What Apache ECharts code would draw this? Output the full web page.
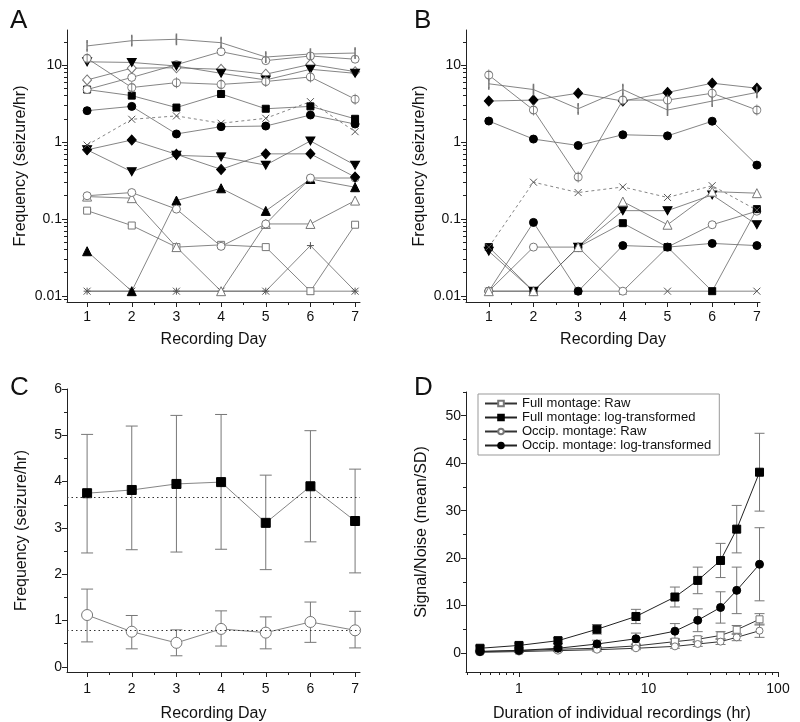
<!DOCTYPE html>
<html>
<head>
<meta charset="utf-8">
<script src="https://cdn.jsdelivr.net/npm/echarts@6/dist/echarts.min.js"></script>
<style>
  html, body { margin: 0; padding: 0; background: #fff; }
  #chart { width: 800px; height: 722px; }
</style>
</head>
<body>
<div id="chart"></div>
<script>
const FONT = "Liberation Sans, Arial, sans-serif";
const days = [1, 2, 3, 4, 5, 6, 7];
const Z = 0.0115; // recordings with no seizures sit just above 0.01

// ---- Panel A: individual patients (full montage), seizures/hr ----
const aBar      = [17.7, 20.7, 21.6, 19.5, 12.7, 13.9, 14.3];
const aCircHi   = [4.8, 6.9, 10.1, 14.9, 11.4, 13.1, 11.9];
const aPhi      = [12.2, 5.1, 5.9, 5.6, 6.1, 7.0, 3.6];
const aTriDnHi  = [11.0, 10.8, 9.7, 7.8, 6.4, 8.8, 7.8];
const aDiaOpen  = [6.4, 9.1, 9.2, 8.8, 7.6, 10.2, 8.2];
const aSqHi     = [4.8, 4.0, 2.8, 4.2, 2.7, 2.9, 2.0];
const aDotHi    = [2.55, 2.9, 1.27, 1.58, 1.61, 2.24, 1.71];
const aCrossDash= [0.91, 1.97, 2.18, 1.75, 2.03, 3.34, 1.36];
const aDiaFill  = [0.79, 1.06, 0.69, 0.44, 0.70, 0.70, 0.35];
const aTriDnLo  = [0.79, 0.41, 0.67, 0.64, 0.50, 1.03, 0.50];
const aCircLo   = [0.20, 0.22, 0.134, 0.044, 0.086, 0.34, 0.34];
const aTriOpen  = [0.195, 0.186, 0.043, Z, 0.086, 0.086, 0.173];
const aTriFill  = [0.038, Z, 0.173, 0.25, 0.127, 0.33, 0.258];
const aSqOpen   = [0.128, 0.082, 0.043, 0.046, 0.043, Z, 0.084];
const aPlus     = [Z, Z, Z, Z, Z, 0.045, Z];
const aCross    = [Z, Z, Z, Z, Z, Z, Z];

// ---- Panel B: individual patients (occipital montage) ----
const bPhi      = [7.4, 2.6, 0.35, 3.5, 3.5, 4.3, 2.6];
const bBar      = [5.7, 4.8, 2.7, 4.8, 2.6, 3.4, 4.4];
const bDiaFill  = [3.4, 3.5, 4.3, 3.4, 4.4, 5.8, 5.0];
const bDotHi    = [1.87, 1.09, 0.9, 1.24, 1.2, 1.86, 0.5];
const bCrossDash= [0.043, 0.30, 0.22, 0.26, 0.19, 0.27, 0.13];
const bTriOpen  = [Z, Z, 0.043, 0.168, 0.084, 0.226, 0.216];
const bTriDn    = [0.038, Z, 0.043, 0.128, 0.128, 0.205, 0.084];
const bSqFill   = [0.043, Z, 0.043, 0.088, 0.043, Z, 0.134];
const bCirc     = [Z, 0.043, 0.043, Z, 0.043, 0.084, 0.126];
const bDotLo    = [Z, 0.09, Z, 0.045, 0.043, 0.048, 0.045];
const bCross    = [Z, Z, Z, Z, Z, Z, Z];

// ---- Panel C: group mean +/- error per recording day ----
const cFull    = [3.75, 3.82, 3.95, 3.99, 3.11, 3.90, 3.15];
const cFullLo  = [2.46, 2.53, 2.48, 2.54, 2.10, 2.70, 2.03];
const cFullHi  = [5.02, 5.20, 5.43, 5.45, 4.14, 5.10, 4.27];
const cOcc     = [1.12, 0.76, 0.52, 0.82, 0.74, 0.97, 0.79];
const cOccLo   = [0.54, 0.39, 0.24, 0.45, 0.39, 0.53, 0.41];
const cOccHi   = [1.68, 1.11, 0.80, 1.21, 1.08, 1.40, 1.20];
const cFullMean = 3.66;
const cOccMean  = 0.79;

// ---- Panel D: signal/noise vs recording duration ----
const dHours      = [0.5, 1, 2, 4, 8, 16, 24, 36, 48, 72];
const dFullRaw    = [0.35, 0.5, 0.8, 1.0, 1.5, 2.4, 2.9, 3.7, 4.9, 7.1];
const dFullRawErr = [0.2, 0.2, 0.3, 0.3, 0.4, 0.4, 0.6, 0.8, 0.9, 1.2];
const dFullLog    = [1.0, 1.6, 2.6, 5.0, 7.7, 11.8, 15.3, 19.5, 26.1, 38.1];
const dFullLogErr = [0.5, 0.5, 0.6, 1.0, 1.5, 2.1, 2.8, 3.6, 5.0, 8.2];
const dOccRaw     = [0.15, 0.3, 0.5, 0.7, 1.0, 1.4, 1.9, 2.4, 3.3, 4.7];
const dOccRawErr  = [0.1, 0.2, 0.2, 0.3, 0.3, 0.4, 0.5, 0.6, 0.7, 1.4];
const dOccLog     = [0.3, 0.55, 1.0, 1.9, 3.0, 4.6, 6.9, 9.6, 13.2, 18.7];
const dOccLogErr  = [0.3, 0.3, 0.4, 0.8, 1.2, 1.6, 2.4, 3.3, 4.9, 7.7];
const dNames = ['Full montage: Raw', 'Full montage: log-transformed',
                'Occip. montage: Raw', 'Occip. montage: log-transformed'];

// tick labels
const logTicks = [-2, -1, 0, 1];
const logTickText = { '-2': '0.01', '-1': '0.1', '0': '1', '1': '10' };
const dayMinor = [1.5, 2.5, 3.5, 4.5, 5.5, 6.5];

// ---------------------------------------------------------------

const GREY = '#777';
const SYM = {
  bar:     { symbol: 'rect', size: [1.2, 9], fill: GREY, stroke: GREY },
  circ:    { symbol: 'circle', size: 8, fill: '#fff', stroke: GREY },
  phi:     { symbol: 'path://M5,0A5,5,0,1,1,4.99,0ZM5,-2L5,12', size: [8, 11], fill: '#fff', stroke: GREY },
  triDn:   { symbol: 'path://M0,0L10,0L5,9Z', size: [9, 8], fill: '#000', stroke: '#000' },
  triUp:   { symbol: 'triangle', size: 9, fill: '#000', stroke: '#000' },
  triOpen: { symbol: 'triangle', size: 9, fill: '#fff', stroke: GREY },
  diaOpen: { symbol: 'diamond', size: [9, 10], fill: '#fff', stroke: GREY },
  diaFill: { symbol: 'diamond', size: [9, 10], fill: '#000', stroke: '#000' },
  sqFill:  { symbol: 'rect', size: 7, fill: '#000', stroke: '#000' },
  sqOpen:  { symbol: 'rect', size: 7, fill: '#fff', stroke: GREY },
  dot:     { symbol: 'circle', size: 8, fill: '#000', stroke: '#000' },
  cross:   { symbol: 'path://M0,0L10,10M10,0L0,10', size: 7, fill: 'none', stroke: '#555' },
  plus:    { symbol: 'path://M5,0L5,10M0,5L10,5', size: 7, fill: 'none', stroke: '#555' }
};

function line(grid, xs, ys, kind, opt = {}) {
  const s = SYM[kind];
  return {
    type: 'line', name: opt.name, xAxisIndex: grid * 2, yAxisIndex: grid * 2,
    data: xs.map((x, i) => [opt.logx ? Math.log10(x) : x, opt.logy ? Math.log10(ys[i]) : ys[i]]),
    symbol: s.symbol, symbolSize: opt.size || s.size, showAllSymbol: true,
    itemStyle: { color: s.fill, borderColor: s.stroke, borderWidth: 1 },
    lineStyle: { color: opt.lineColor || '#666', width: opt.lineWidth || 0.8, type: opt.dash ? [3, 3] : 'solid' },
    emphasis: { disabled: true }, animation: false, z: 3,
    markLine: opt.markLine
  };
}

function errBars(grid, xs, lo, hi, cap, logx) {
  return {
    type: 'custom', xAxisIndex: grid * 2, yAxisIndex: grid * 2, silent: true, animation: false, z: 2,
    data: xs.map((x, i) => [logx ? Math.log10(x) : x, lo[i], hi[i]]),
    encode: { x: 0, y: [1, 2] },
    renderItem(params, api) {
      const a = api.coord([api.value(0), api.value(1)]);
      const b = api.coord([api.value(0), api.value(2)]);
      const st = { stroke: '#777', lineWidth: 1 };
      return {
        type: 'group', children: [
          { type: 'line', shape: { x1: a[0], y1: a[1], x2: b[0], y2: b[1] }, style: st },
          { type: 'line', shape: { x1: a[0] - cap, y1: a[1], x2: a[0] + cap, y2: a[1] }, style: st },
          { type: 'line', shape: { x1: b[0] - cap, y1: b[1], x2: b[0] + cap, y2: b[1] }, style: st }
        ]
      };
    }
  };
}

// main axis + overlay axis that only carries the short minor ticks
function axisPair(dir, grid, min, max, major, minor, fmt, name, nameGap, labelMargin) {
  const pos = dir === 'x' ? 'bottom' : 'left';
  const main = {
    type: 'value', gridIndex: grid, min, max, position: pos,
    axisLine: { show: true, onZero: false, lineStyle: { color: '#222', width: 1 } },
    axisTick: { show: true, customValues: major, length: 5, lineStyle: { color: '#222' } },
    axisLabel: { customValues: major, formatter: fmt, fontSize: 14, color: '#111', fontFamily: FONT,
                 margin: labelMargin || (dir === 'x' ? 8 : 5) },
    splitLine: { show: false },
    name, nameLocation: 'middle', nameGap,
    nameTextStyle: { fontSize: 16, color: '#111', fontFamily: FONT }
  };
  const over = {
    type: 'value', gridIndex: grid, min, max, position: pos,
    axisLine: { show: false, onZero: false },
    axisTick: { show: true, customValues: minor, length: 3, lineStyle: { color: '#222' } },
    axisLabel: { show: false }, splitLine: { show: false }
  };
  return [main, over];
}

function logMinor(lo, hi) {
  const out = [];
  for (let d = -3; d <= 2; d++) for (let k = 2; k <= 9; k++) {
    const v = Math.log10(k * Math.pow(10, d));
    if (v > lo && v < hi) out.push(v);
  }
  return out;
}

const logFmt = v => logTickText[String(Math.round(v))];
const intFmt = v => String(Math.round(v));
const yLogMin = -2.08, yLogMax = 1.455;
const dxMin = Math.log10(0.39), dxMax = 2;

const xAxes = [
  ...axisPair('x', 0, 0.55, 7.11, days, dayMinor, intFmt, 'Recording Day', 30),
  ...axisPair('x', 1, 0.49, 7.07, days, dayMinor, intFmt, 'Recording Day', 30),
  ...axisPair('x', 2, 0.55, 7.11, days, dayMinor, intFmt, 'Recording Day', 34, 10),
  ...axisPair('x', 3, dxMin, dxMax, [0, 1, 2], logMinor(dxMin, dxMax),
              v => String(Math.round(Math.pow(10, v))), 'Duration of individual recordings (hr)', 34, 10)
];
const yAxes = [
  ...axisPair('y', 0, yLogMin, yLogMax, logTicks, logMinor(yLogMin, yLogMax), logFmt, 'Frequency (seizure/hr)', 38),
  ...axisPair('y', 1, yLogMin, yLogMax, logTicks, logMinor(yLogMin, yLogMax), logFmt, 'Frequency (seizure/hr)', 38),
  ...axisPair('y', 2, -0.11, 6, [0, 1, 2, 3, 4, 5, 6], [0.5, 1.5, 2.5, 3.5, 4.5, 5.5], intFmt, 'Frequency (seizure/hr)', 37),
  ...axisPair('y', 3, -4, 55, [0, 10, 20, 30, 40, 50], [5, 15, 25, 35, 45, 55], intFmt, 'Signal/Noise (mean/SD)', 36)
];

const LY = { logy: true };
const series = [
  // A
  line(0, days, aCross, 'cross', LY),
  line(0, days, aPlus, 'plus', LY),
  line(0, days, aSqOpen, 'sqOpen', LY),
  line(0, days, aTriFill, 'triUp', LY),
  line(0, days, aTriOpen, 'triOpen', LY),
  line(0, days, aCircLo, 'circ', LY),
  line(0, days, aTriDnLo, 'triDn', LY),
  line(0, days, aDiaFill, 'diaFill', LY),
  line(0, days, aCrossDash, 'cross', { logy: true, dash: true }),
  line(0, days, aDotHi, 'dot', LY),
  line(0, days, aSqHi, 'sqFill', LY),
  line(0, days, aCircHi, 'circ', LY),
  line(0, days, aDiaOpen, 'diaOpen', LY),
  line(0, days, aTriDnHi, 'triDn', LY),
  line(0, days, aPhi, 'phi', LY),
  line(0, days, aBar, 'bar', LY),
  // B
  line(1, days, bCross, 'cross', LY),
  line(1, days, bDotLo, 'dot', LY),
  line(1, days, bCirc, 'circ', LY),
  line(1, days, bSqFill, 'sqFill', LY),
  line(1, days, bTriDn, 'triDn', LY),
  line(1, days, bTriOpen, 'triOpen', LY),
  line(1, days, bCrossDash, 'cross', { logy: true, dash: true }),
  line(1, days, bDotHi, 'dot', LY),
  line(1, days, bDiaFill, 'diaFill', LY),
  line(1, days, bBar, 'bar', LY),
  line(1, days, bPhi, 'phi', LY),
  // C
  errBars(2, days, cFullLo, cFullHi, 6),
  errBars(2, days, cOccLo, cOccHi, 6),
  line(2, days, cFull, 'sqFill', {
    size: 9,
    markLine: { silent: true, symbol: 'none', label: { show: false }, animation: false,
      lineStyle: { type: [1.5, 3], color: '#333', width: 1 },
      data: [{ yAxis: cFullMean }, { yAxis: cOccMean }] }
  }),
  line(2, days, cOcc, 'circ', { size: 11 }),
  // D
  errBars(3, dHours, dFullLog.map((v, i) => v - dFullLogErr[i]), dFullLog.map((v, i) => v + dFullLogErr[i]), 5, true),
  errBars(3, dHours, dOccLog.map((v, i) => v - dOccLogErr[i]), dOccLog.map((v, i) => v + dOccLogErr[i]), 5, true),
  errBars(3, dHours, dFullRaw.map((v, i) => v - dFullRawErr[i]), dFullRaw.map((v, i) => v + dFullRawErr[i]), 5, true),
  errBars(3, dHours, dOccRaw.map((v, i) => v - dOccRawErr[i]), dOccRaw.map((v, i) => v + dOccRawErr[i]), 5, true),
  line(3, dHours, dFullRaw, 'sqOpen', { name: dNames[0], logx: true, size: 7, lineColor: '#333', lineWidth: 1 }),
  line(3, dHours, dFullLog, 'sqFill', { name: dNames[1], logx: true, size: 8, lineColor: '#222', lineWidth: 1 }),
  line(3, dHours, dOccRaw, 'circ', { name: dNames[2], logx: true, size: 7, lineColor: '#333', lineWidth: 1 }),
  line(3, dHours, dOccLog, 'dot', { name: dNames[3], logx: true, size: 8, lineColor: '#222', lineWidth: 1 })
];

const letter = (t, x, y) => ({ type: 'text', left: x, top: y,
  style: { text: t, fontSize: 26, fontFamily: FONT, fill: '#111' } });

const chart = echarts.init(document.getElementById('chart'), null, { renderer: 'canvas' });
chart.setOption({
  animation: false,
  backgroundColor: '#fff',
  textStyle: { fontFamily: FONT },
  grid: [
    { left: 67, top: 30, width: 293, height: 272, outerBoundsMode: 'none' },
    { left: 466, top: 30, width: 294, height: 272, outerBoundsMode: 'none' },
    { left: 67, top: 389, width: 293, height: 283, outerBoundsMode: 'none' },
    { left: 466, top: 392, width: 312, height: 280, outerBoundsMode: 'none' }
  ],
  xAxis: xAxes,
  yAxis: yAxes,
  legend: {
    data: dNames, orient: 'vertical', left: 478, top: 394,
    itemGap: 1, itemWidth: 32, itemHeight: 7, padding: [3, 8, 3, 6],
    borderColor: '#999', borderWidth: 1, backgroundColor: '#fff',
    textStyle: { fontSize: 13, color: '#111', fontFamily: FONT },
    selectedMode: false
  },
  graphic: [letter('A', 10, 8), letter('B', 414, 8), letter('C', 10, 375), letter('D', 414, 375)],
  series
});
</script>
</body>
</html>
